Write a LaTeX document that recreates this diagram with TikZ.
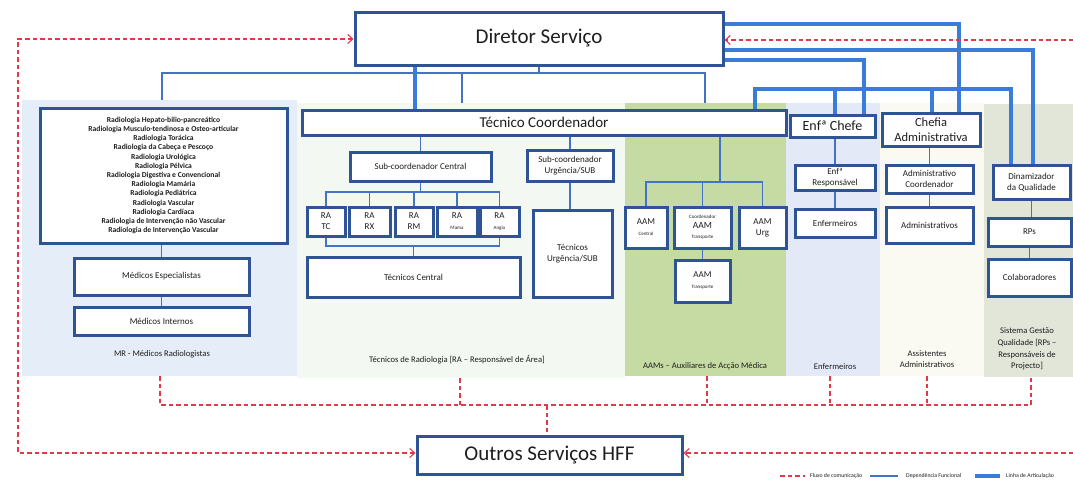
\documentclass[tikz,border=0pt]{standalone}
\usepackage{fontspec}
\setmainfont{Carlito}
\usetikzlibrary{arrows.meta}
\definecolor{bxb}{RGB}{47,84,150}
\definecolor{depc}{RGB}{68,114,196}
\definecolor{artc}{RGB}{58,125,217}
\definecolor{flx}{RGB}{224,58,74}
\definecolor{txt}{RGB}{30,30,30}
\definecolor{pMR}{RGB}{229,237,249}
\definecolor{pTR}{RGB}{244,248,243}
\definecolor{pAA}{RGB}{198,219,164}
\definecolor{pEN}{RGB}{228,233,248}
\definecolor{pAD}{RGB}{250,250,242}
\definecolor{pQL}{RGB}{225,230,217}
\newcommand\obox[7]{\node[#1, minimum width={#5-#3}, minimum height={#6-#4}] (#2) at ({(#3+#5)/2},{(#4+#6)/2}) {#7};}
\newcommand\fs[1]{\fontsize{#1}{#1}\selectfont}
\begin{document}
\begin{tikzpicture}[x=1pt,y=-1pt,
  box/.style={draw=bxb, line width=3pt, fill=white, inner sep=1pt, align=center, text=txt, font=\fontsize{9}{11}\selectfont},
  panel/.style={draw=none, inner sep=0pt},
  lbl/.style={text=txt, align=center, inner sep=0pt, font=\fontsize{8.6}{11.7}\selectfont},
  lgd/.style={text=txt, anchor=west, inner sep=0pt, font=\fontsize{5.8}{6}\selectfont},
  depl/.style={draw=depc, line width=1.1pt},
  artl/.style={draw=artc, line width=3.4pt},
  flux/.style={draw=flx, line width=1.1pt, dash pattern=on 4.5pt off 3pt},
  tip/.style={-{Straight Barb[length=5pt,width=9pt]}},
  tips/.style={{Straight Barb[length=5pt,width=9pt]}-{Straight Barb[length=5pt,width=9pt]}}
]
\useasboundingbox (0,0) rectangle (1073,480);
\fill[white] (0,0) rectangle (1073,480);

% panels
\obox{panel,fill=pMR}{mrp}{22}{100}{297}{376}{}
\obox{panel,fill=pTR}{trp}{297}{103}{625}{378}{}
\obox{panel,fill=pAA}{aap}{625}{103}{786}{376}{}
\obox{panel,fill=pEN}{enp}{786}{103}{880}{376}{}
\obox{panel,fill=pAD}{adp}{880}{103}{984}{376}{}
\obox{panel,fill=pQL}{qlp}{984}{104}{1073}{377}{}

% main boxes
\obox{box,font=\fs{21}}{dir}{355}{12}{723}{65}{Diretor Serviço}
\obox{box,font=\fs{15}}{tc}{302}{110}{786}{135}{Técnico Coordenador}
\obox{box,font=\fs{21}}{out}{417}{436}{682}{474}{Outros Serviços HFF}

% MR
\obox{box,font=\fontsize{7.6}{9.2}\selectfont\bfseries}{spec}{40}{108}{287}{243}{Radiologia Hepato-bilio-pancreático\\Radiologia Musculo-tendinosa e Osteo-articular\\Radiologia Torácica\\Radiologia da Cabeça e Pescoço\\Radiologia Urológica\\Radiologia Pélvica\\Radiologia Digestiva e Convencional\\Radiologia Mamária\\Radiologia Pediátrica\\Radiologia Vascular\\Radiologia Cardíaca\\Radiologia de Intervenção não Vascular\\Radiologia de Intervenção Vascular}
\obox{box}{mesp}{74}{258}{249}{295}{Médicos Especialistas}
\obox{box}{mint}{74}{307}{249}{335}{Médicos Internos}

% Tecnicos
\obox{box}{subc}{350}{152}{491}{181}{Sub-coordenador Central}
\obox{box}{subu}{527}{150}{613}{181}{Sub-coordenador\\Urgência/SUB}
\obox{box}{ratc}{307}{207}{345}{236}{RA\\TC}
\obox{box}{rarx}{349}{207}{390}{236}{RA\\RX}
\obox{box}{rarm}{395}{207}{433}{236}{RA\\RM}
\obox{box}{rama}{437}{207}{477}{236}{RA\\{\fs{5}Mama}}
\obox{box}{raan}{480}{207}{519}{236}{RA\\{\fs{5}Angio}}
\obox{box}{tcen}{307}{257}{520}{297}{Técnicos Central}
\obox{box}{turg}{533}{210}{612}{297}{Técnicos\\Urgência/SUB}

% AAM
\obox{box}{aamc}{625}{207}{667}{248}{AAM\\{\fs{5}Central}}
\obox{box,font=\fontsize{9.5}{10}\selectfont}{aamco}{674}{207}{731}{248}{{\fs{5}Coordenador}\\AAM\\{\fs{5}Transporte}}
\obox{box}{aamu}{739}{207}{786}{248}{AAM\\Urg}
\obox{box}{aamt}{675}{260}{730}{302}{AAM\\{\fs{5}Transporte}}

% Enf
\obox{box,font=\fs{14}}{enfc}{790}{115}{875}{137}{Enfª Chefe}
\obox{box}{enfr}{795}{165}{875}{190}{Enfª\\Responsável}
\obox{box}{enfm}{795}{209}{875}{237}{Enfermeiros}

% Adm
\obox{box,font=\fontsize{12.5}{14.5}\selectfont}{chef}{882}{113}{980}{146}{Chefia\\Administrativa}
\obox{box}{admc}{886}{165}{973}{193}{Administrativo\\Coordenador}
\obox{box}{adms}{886}{207}{973}{243}{Administrativos}

% Qualidade
\obox{box}{din}{993}{165}{1070}{199}{Dinamizador\\da Qualidade}
\obox{box}{rps}{988}{218}{1071}{246}{RPs}
\obox{box}{col}{988}{259}{1071}{296}{Colaboradores}

% panel labels
\node[lbl] (lmr) at (162,354) {MR - Médicos Radiologistas};
\node[lbl] (ltr) at (457,360) {Técnicos de Radiologia [RA – Responsável de Área]};
\node[lbl] (laa) at (705,366) {AAMs – Auxiliares de Acção Médica};
\node[lbl] (len) at (835,367) {Enfermeiros};
\node[lbl] (lad) at (927,359) {Assistentes\\Administrativos};
\node[lbl] (lql) at (1027,349) {Sistema Gestão\\Qualidade [RPs –\\Responsáveis de\\Projecto]};

% dependencia funcional (thin)
\coordinate (tl) at (162,73);
\coordinate (tm) at (462,73);
\coordinate (tr) at (705,73);
\draw[depl] (dir.south) -- (dir.south |- tl);
\draw[depl] (mrp.north -| tl) |- (tr) -- (aap.north -| tr);
\draw[depl] (tm) -- (trp.north -| tm);
\draw[depl] (mesp.north) -- (mesp.north |- spec.south);
\draw[depl] (mesp.south) -- (mint.north);
\draw[depl] (tc.south -| subc.north) -- (subc.north);
\draw[depl] (tc.south -| subu.north) -- (subu.north);
\coordinate (b1) at (420,192);
\draw[depl] (subc.south) -- (subc.south |- b1);
\draw[depl] (ratc.north) |- (raan.north |- b1) -- (raan.north);
\draw[depl] (rarx.north) -- (rarx.north |- b1);
\draw[depl] (rarm.north) -- (rarm.north |- b1);
\draw[depl] (rama.north) -- (rama.north |- b1);
\coordinate (b2) at (414,246);
\draw[depl] (ratc.south) |- (raan.south |- b2) -- (raan.south);
\draw[depl] (tcen.north) -- (tcen.north |- b2);
\draw[depl] (subu.south) -- (subu.south |- turg.north);
\coordinate (b3) at (720,182);
\draw[depl] (tc.south -| b3) -- (b3);
\draw[depl] (aamc.north) |- (aamu.north |- b3) -- (aamu.north);
\draw[depl] (aamco.north) -- (aamco.north |- b3);
\draw[depl] (aamco.south) -- (aamco.south |- aamt.north);
\draw[depl] (enfr.north) -- (enfr.north |- enfc.south);
\draw[depl] (enfr.south) -- (enfm.north);
\draw[depl] (admc.north) -- (admc.north |- chef.south);
\draw[depl] (admc.south) -- (adms.north);
\draw[depl] (din.south) -- (din.south |- rps.north);
\draw[depl] (rps.south) -- (col.north);

% linha de articulacao (thick)
\coordinate (ax) at (415,0);
\draw[artl] (dir.south -| ax) -- (tc.north -| ax);
\coordinate (ya) at (959,24);
\coordinate (yb) at (1033,50);
\coordinate (yc) at (864,60);
\draw[artl] (dir.east |- ya) -| (chef.north -| ya);
\draw[artl] (dir.east |- yb) -| (din.north -| yb);
\draw[artl] (dir.east |- yc) -| (enfc.north -| yc);
\coordinate (d1) at (755,89);
\coordinate (d2) at (835,89);
\coordinate (d3) at (932,89);
\coordinate (d4) at (1011,89);
\draw[artl] (tc.north -| d1) -- (d1) -- (d4) -- (din.north -| d4);
\draw[artl] (d2) -- (enfc.north -| d2);
\draw[artl] (d3) -- (chef.north -| d3);

% fluxo de comunicacao (red dashed)
\coordinate (lt) at (18,39);
\coordinate (lb) at (18,453);
\coordinate (rt) at (1073,40);
\coordinate (rb) at (1073,453);
\draw[flux,tips] (dir.west |- lt) -- (lt) -- (lb) -- (out.west |- lb);
\draw[flux,tip] (rt) -- (dir.east |- rt);
\draw[flux,tip] (rb) -- (out.east |- rb);
\coordinate (k0) at (547,405);
\coordinate (k1) at (160,405);
\coordinate (k2) at (460,405);
\coordinate (k3) at (707,405);
\coordinate (k4) at (830,405);
\coordinate (k5) at (927,405);
\coordinate (k6) at (1031,405);
\draw[flux] (mrp.south -| k1) -- (k1) -- (k6) -- (qlp.south -| k6);
\draw[flux] (trp.south -| k2) -- (k2);
\draw[flux] (aap.south -| k3) -- (k3);
\draw[flux] (enp.south -| k4) -- (k4);
\draw[flux] (adp.south -| k5) -- (k5);
\draw[flux] (k0) -- (out.north -| k0);

% legend
\coordinate (g1a) at (780,476);
\coordinate (g1b) at (805,476);
\coordinate (g2a) at (870,476);
\coordinate (g2b) at (898,476);
\coordinate (g3a) at (975,476);
\coordinate (g3b) at (1000,476);
\draw[flux] (g1a) -- (g1b);
\draw[depl] (g2a) -- (g2b);
\draw[artl] (g3a) -- (g3b);
\node[lgd] (t1) at (810,476) {Fluxo de comunicação};
\node[lgd] (t2) at (906,476) {Dependência Funcional};
\node[lgd] (t3) at (1006,476) {Linha de Articulação};
\end{tikzpicture}
\end{document}
